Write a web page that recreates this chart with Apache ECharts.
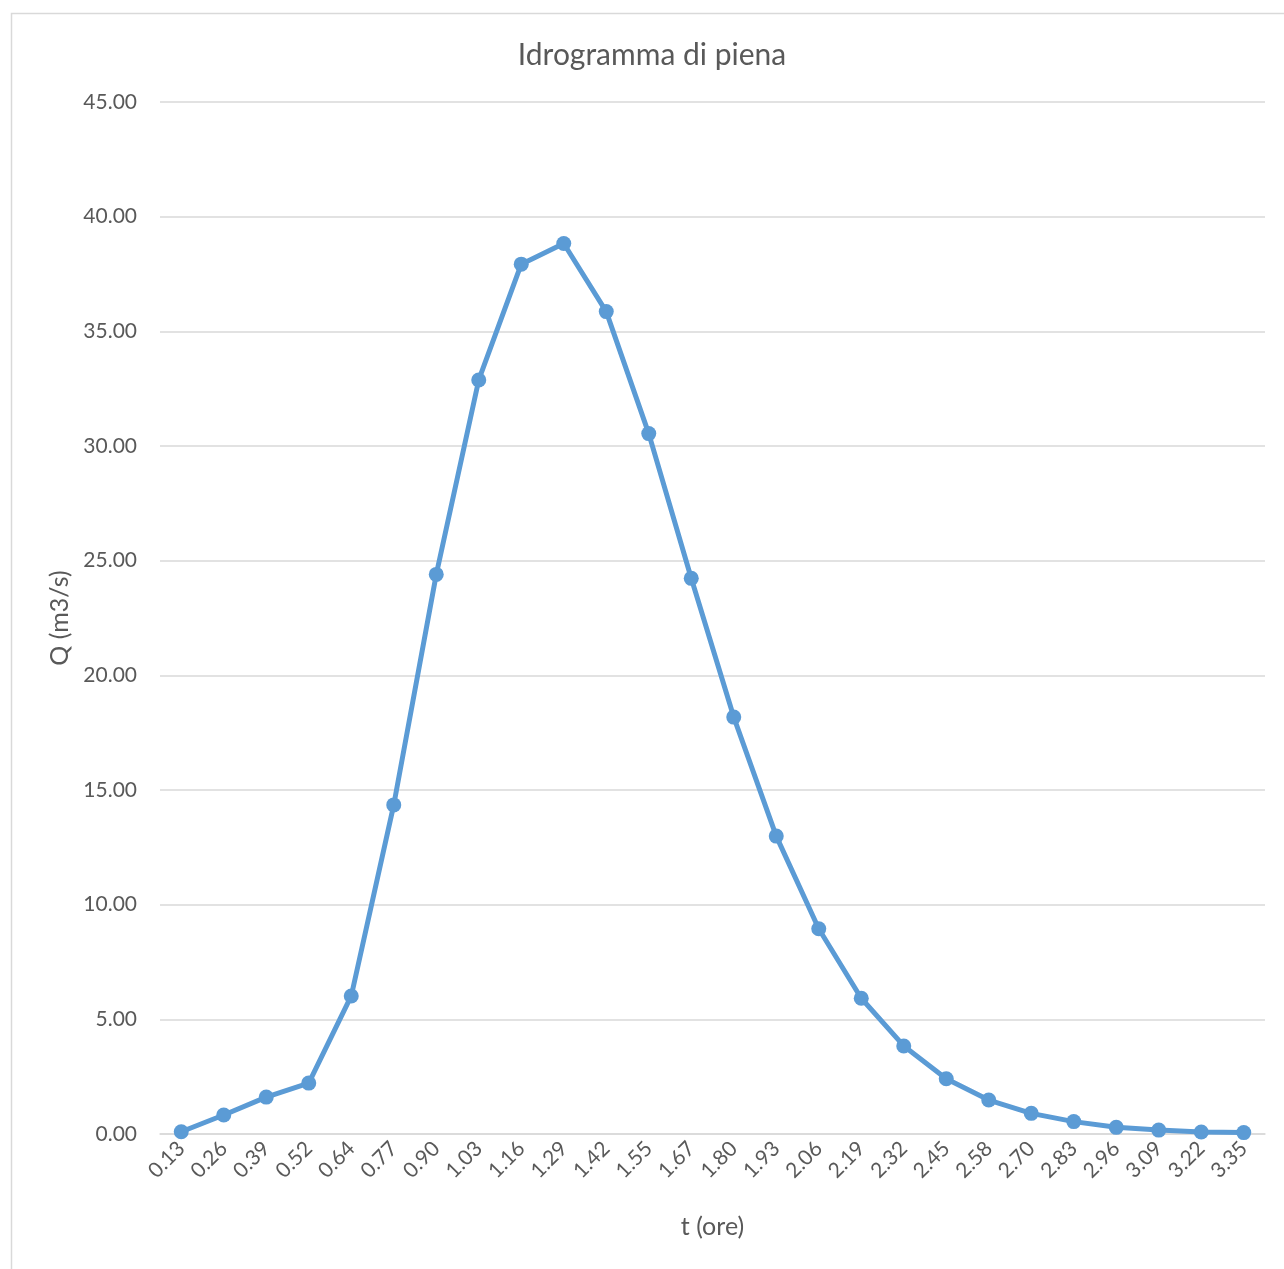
<!DOCTYPE html>
<html>
<head>
<meta charset="utf-8">
<script src="https://cdn.jsdelivr.net/npm/echarts@6/dist/echarts.min.js"></script>
<style>html,body{margin:0;padding:0;background:#fff}#c{width:1284px;height:1269px}</style>
</head>
<body>
<div id="c"></div>
<script>
const categories = ['0.13','0.26','0.39','0.52','0.64','0.77','0.90','1.03','1.16','1.29','1.42','1.55','1.67','1.80','1.93','2.06','2.19','2.32','2.45','2.58','2.70','2.83','2.96','3.09','3.22','3.35'];
const discharge = [0.10,0.83,1.61,2.22,6.02,14.35,24.40,32.88,37.93,38.83,35.86,30.54,24.23,18.18,12.99,8.95,5.92,3.84,2.41,1.48,0.90,0.54,0.29,0.17,0.09,0.06];
const titleText = 'Idrogramma di piena';
const xName = 't (ore)';
const yName = 'Q (m3/s)';

const FONT = 'Lato';
const TXT = '#595959';
const chart = echarts.init(document.getElementById('c'), null, {renderer: 'canvas'});
chart.setOption({
  backgroundColor: '#fff',
  animation: false,
  graphic: [{
    type: 'rect', left: 9, top: 11,
    shape: {width: 1300, height: 1300},
    style: {fill: 'none', stroke: '#d9d9d9', lineWidth: 1.5},
    z: -1
  }],
  title: {
    text: titleText, left: 647, top: 35, textAlign: 'center',
    textStyle: {fontFamily: FONT, fontSize: 30, fontWeight: 'normal', color: TXT}
  },
  grid: {left: 160, right: 19, top: 102, bottom: 135, containLabel: false},
  xAxis: {
    type: 'category', data: categories, boundaryGap: true,
    name: xName, nameLocation: 'middle', nameGap: 80,
    nameTextStyle: {fontFamily: FONT, fontSize: 25, color: TXT},
    axisLine: {show: true, lineStyle: {color: '#d9d9d9', width: 1.5}},
    axisTick: {show: false},
    axisLabel: {rotate: 45, interval: 0, fontFamily: FONT, fontSize: 21, color: TXT, margin: 11},
    splitLine: {show: false}
  },
  yAxis: {
    type: 'value', min: 0, max: 45, interval: 5,
    name: yName, nameLocation: 'middle', nameGap: 86,
    nameTextStyle: {fontFamily: FONT, fontSize: 25, color: TXT},
    axisLine: {show: false}, axisTick: {show: false},
    axisLabel: {fontFamily: FONT, fontSize: 21, color: TXT, margin: 23, formatter: v => v.toFixed(2)},
    splitLine: {lineStyle: {color: '#d9d9d9', width: 1.5}}
  },
  series: [{
    type: 'line', data: discharge,
    lineStyle: {color: '#5b9bd5', width: 5},
    itemStyle: {color: '#5b9bd5'},
    symbol: 'circle', symbolSize: 15,
    z: 3
  }]
});
</script>
</body>
</html>
